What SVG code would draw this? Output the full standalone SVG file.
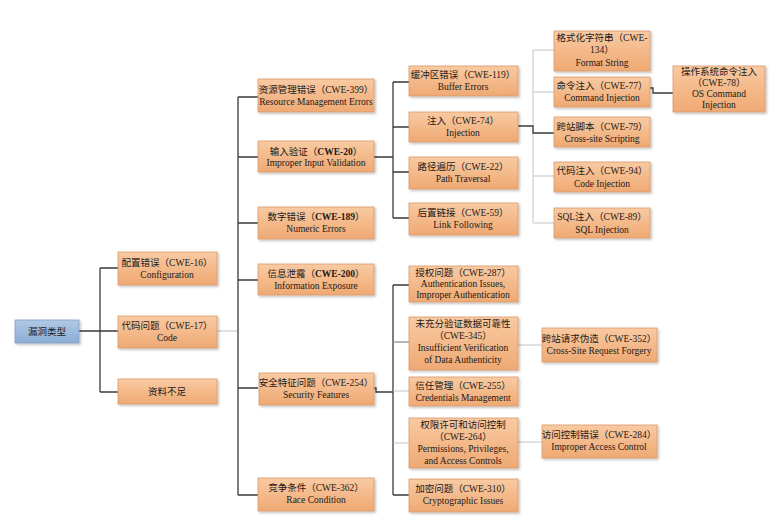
<svg xmlns="http://www.w3.org/2000/svg" width="776" height="530" viewBox="0 0 776 530">
<defs>
<linearGradient id="og" x1="0" y1="0" x2="0" y2="1">
<stop offset="0" stop-color="#f9caa2"/>
<stop offset="1" stop-color="#efa973"/>
</linearGradient>
<linearGradient id="bg" x1="0" y1="0" x2="0" y2="1">
<stop offset="0" stop-color="#b0c9e4"/>
<stop offset="1" stop-color="#8cadd6"/>
</linearGradient>
<filter id="sh" x="-10%" y="-10%" width="130%" height="140%">
<feDropShadow dx="1.5" dy="1.5" stdDeviation="0.8" flood-color="#000" flood-opacity="0.25"/>
</filter>
</defs>
<style>
.b rect{fill:url(#og);stroke:#d99a6c;stroke-width:0.8;filter:url(#sh)}
.r rect{fill:url(#bg);stroke:#7f9fc6;stroke-width:0.8;filter:url(#sh)}
text{font-family:"Liberation Serif","Noto Sans CJK SC",serif;font-size:9.5px;fill:#1a1a1a;text-anchor:middle}
.d{fill:none;stroke:#3a3a3a;stroke-width:1.3}
.g{fill:none;stroke:#c4c4c4;stroke-width:1}
.bd{font-weight:bold}
</style>
<rect width="776" height="530" fill="#ffffff"/>
<g id="connectors">
<path class="d" d="M79,331 H118 M100,268 V392 M100,268 H118 M100,392 H118"/>
<path class="g" d="M217,331 H238"/>
<path class="d" d="M238,97 V495 M238,97 H258 M238,157 H258 M238,223 H258 M238,280 H258 M238,388 H258 M238,495 H258"/>
<path class="d" d="M374,157 H393 M393,82 V218 M393,82 H409 M393,127 H409 M393,172 H409 M393,218 H409"/>
<path class="g" d="M533,50 V223 M533,50 H554 M533,92 H554 M533,176 H554 M533,223 H554"/>
<path class="d" d="M518,126 H533 V133 H554"/>
<path class="d" d="M650,88 H653 V93 H673"/>
<path class="d" d="M374,388 H376 V392 H393 M393,285 V495 M393,285 H409 M393,495 H409"/>
<path class="g" d="M393,342 H409" style="stroke:#9a9a9a;stroke-width:1.4"/>
<path class="g" d="M393,391 H409 M393,443 H409 M518,345 H542 M518,442 H542"/>
</g>
<g id="root" class="r"><rect x="15" y="320" width="64" height="23"/><text x="47" y="335">漏洞类型</text></g>
<g id="cwe16" class="b"><rect x="118" y="252" width="99" height="33"/><text x="167" y="266">配置错误（CWE-16）</text><text x="167" y="278">Configuration</text></g>
<g id="cwe17" class="b"><rect x="118" y="316" width="99" height="32"/><text x="167" y="329">代码问题（CWE-17）</text><text x="167" y="341">Code</text></g>
<g id="insufficient" class="b"><rect x="118" y="379" width="99" height="25"/><text x="167" y="395">资料不足</text></g>
<g id="cwe399" class="b"><rect x="258" y="79" width="116" height="33"/><text x="316" y="93">资源管理错误（CWE-399）</text><text x="316" y="105">Resource Management Errors</text></g>
<g id="cwe20" class="b"><rect x="258" y="141" width="116" height="31"/><text x="316" y="155">输入验证（<tspan class="bd">CWE-20</tspan>）</text><text x="316" y="166">Improper Input Validation</text></g>
<g id="cwe189" class="b"><rect x="258" y="207" width="116" height="32"/><text x="316" y="220">数字错误（<tspan class="bd">CWE-189</tspan>）</text><text x="316" y="232">Numeric Errors</text></g>
<g id="cwe200" class="b"><rect x="258" y="264" width="116" height="31"/><text x="316" y="277">信息泄露（<tspan class="bd">CWE-200</tspan>）</text><text x="316" y="289">Information Exposure</text></g>
<g id="cwe254" class="b"><rect x="259" y="373" width="115" height="32"/><text x="316" y="386">安全特征问题（CWE-254）</text><text x="316" y="398">Security Features</text></g>
<g id="cwe362" class="b"><rect x="258" y="478" width="116" height="33"/><text x="316" y="491">竞争条件（CWE-362）</text><text x="316" y="503">Race Condition</text></g>
<g id="cwe119" class="b"><rect x="409" y="66" width="109" height="30"/><text x="463" y="78">缓冲区错误（CWE-119）</text><text x="463" y="90">Buffer Errors</text></g>
<g id="cwe74" class="b"><rect x="409" y="112" width="109" height="30"/><text x="463" y="124">注入（CWE-74）</text><text x="463" y="136">Injection</text></g>
<g id="cwe22" class="b"><rect x="409" y="157" width="109" height="32"/><text x="463" y="170">路径遍历（CWE-22）</text><text x="463" y="182">Path Traversal</text></g>
<g id="cwe59" class="b"><rect x="409" y="203" width="109" height="32"/><text x="463" y="216">后置链接（CWE-59）</text><text x="463" y="228">Link Following</text></g>
<g id="cwe287" class="b"><rect x="409" y="266" width="109" height="36"/><text x="463" y="276">授权问题（CWE-287）</text><text x="463" y="287">Authentication Issues,</text><text x="463" y="298">Improper Authentication</text></g>
<g id="cwe345" class="b"><rect x="409" y="317" width="109" height="53"/><text x="463" y="327">未充分验证数据可靠性</text><text x="463" y="339">（CWE-345）</text><text x="463" y="351">Insufficient Verification</text><text x="463" y="363">of Data Authenticity</text></g>
<g id="cwe255" class="b"><rect x="409" y="377" width="109" height="29"/><text x="463" y="389">信任管理（CWE-255）</text><text x="463" y="401">Credentials Management</text></g>
<g id="cwe264" class="b"><rect x="409" y="418" width="109" height="50"/><text x="463" y="428">权限许可和访问控制</text><text x="463" y="440">（CWE-264）</text><text x="463" y="452">Permissions, Privileges,</text><text x="463" y="464">and Access Controls</text></g>
<g id="cwe310" class="b"><rect x="409" y="479" width="109" height="33"/><text x="463" y="492">加密问题（CWE-310）</text><text x="463" y="504">Cryptographic Issues</text></g>
<g id="cwe134" class="b"><rect x="554" y="31" width="96" height="40"/><text x="602" y="41">格式化字符串（CWE-</text><text x="602" y="53">134）</text><text x="602" y="66">Format String</text></g>
<g id="cwe77" class="b"><rect x="554" y="77" width="96" height="30"/><text x="602" y="89">命令注入（CWE-77）</text><text x="602" y="101">Command Injection</text></g>
<g id="cwe79" class="b"><rect x="554" y="117" width="96" height="30"/><text x="602" y="130">跨站脚本（CWE-79）</text><text x="602" y="142">Cross-site Scripting</text></g>
<g id="cwe94" class="b"><rect x="554" y="162" width="96" height="30"/><text x="602" y="174">代码注入（CWE-94）</text><text x="602" y="187">Code Injection</text></g>
<g id="cwe89" class="b"><rect x="554" y="208" width="96" height="30"/><text x="602" y="220">SQL注入（CWE-89）</text><text x="602" y="233">SQL Injection</text></g>
<g id="cwe78" class="b"><rect x="673" y="66" width="92" height="46"/><text x="719" y="75">操作系统命令注入</text><text x="719" y="86">（CWE-78）</text><text x="719" y="97">OS Command</text><text x="719" y="108">Injection</text></g>
<g id="cwe352" class="b"><rect x="542" y="328" width="115" height="34"/><text x="599" y="342">跨站请求伪造（CWE-352）</text><text x="599" y="354">Cross-Site Request Forgery</text></g>
<g id="cwe284" class="b"><rect x="542" y="425" width="115" height="33"/><text x="599" y="438">访问控制错误（CWE-284）</text><text x="599" y="450">Improper Access Control</text></g>
</svg>
